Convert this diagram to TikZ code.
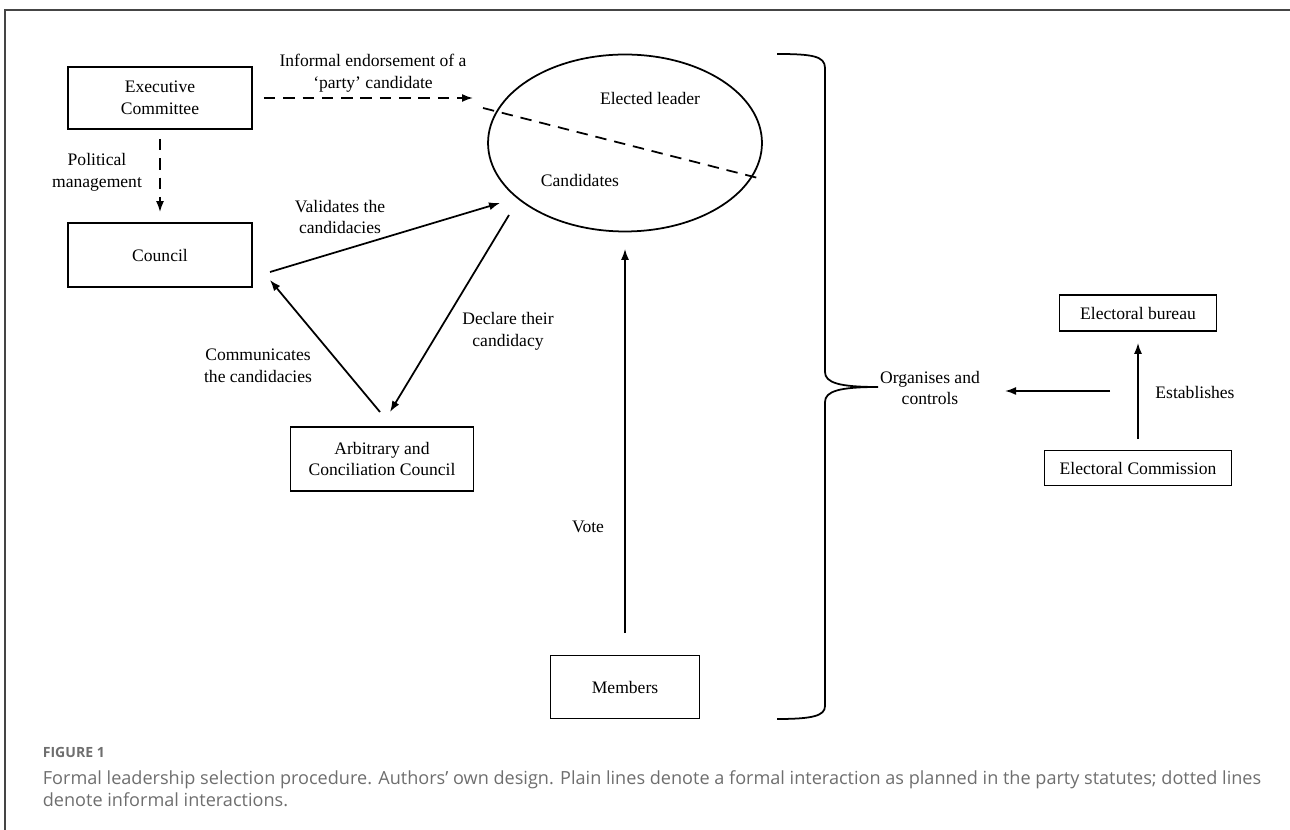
\documentclass[tikz,border=0pt]{standalone}
\usepackage{fontspec}
\setmainfont{Liberation Serif}
\newfontfamily\captionfont{Open Sans}
\usetikzlibrary{shapes.geometric,arrows.meta}
\definecolor{framegray}{HTML}{454545}
\definecolor{captiongray}{HTML}{6E6E6E}

\begin{document}
\begin{tikzpicture}[x=0.02cm,y=-0.02cm,
	>={Latex[length=2.2mm,width=1.6mm]},
	font=\fontsize{10}{12.5}\selectfont,
	line width=1pt,
	box/.style={draw,align=center,inner sep=0pt},
	note/.style={align=center,inner sep=1pt},
	informal/.style={dash pattern=on 6.5pt off 4.5pt}]
	\useasboundingbox (0,0) rectangle (1290,830);
	\draw[framegray,line width=1pt] (5,830) -- (5,10) -- (1290,10);

	\node[box,minimum width=3.68cm,minimum height=1.24cm] (Executive) at (160,98) {Executive\\Committee};
	\node[box,minimum width=3.68cm,minimum height=1.28cm] (Council) at (160,255) {Council};
	\node[box,minimum width=3.66cm,minimum height=1.28cm] (Arbitrary) at (382,459) {Arbitrary and\\Conciliation Council};
	\node[box,minimum width=2.98cm,minimum height=1.26cm] (Members) at (625,687) {Members};
	\node[box,minimum width=3.14cm,minimum height=0.72cm] (Bureau) at (1138,313) {Electoral bureau};
	\node[box,minimum width=3.74cm,minimum height=0.70cm] (Commission) at (1138,468) {Electoral Commission};

	\node[draw,ellipse,minimum width=5.48cm,minimum height=3.54cm,inner sep=0pt] (Leadership) at (625,143) {};
	\node (Elected) at (650,98) {Elected leader};
	\node (Candidates) at (580,180) {Candidates};
	\coordinate (SplitW) at (483,108);
	\coordinate (SplitE) at (758,178);
	\draw[informal] (SplitW) -- (SplitE);

	\node[note] (Endorsement) at (373,73) {Informal endorsement of a\\‘party’ candidate};
	\node[note] (Management) at (97,172) {Political\\management};
	\node[note] (Validates) at (340,217) {Validates the\\candidacies};
	\node[note] (Declare) at (508,331) {Declare their\\candidacy};
	\node[note] (Communicates) at (258,366) {Communicates\\the candidacies};
	\node[note] (Vote) at (588,527) {Vote};
	\node[note] (Organises) at (930,388) {Organises and\\controls};
	\node[note] (Establishes) at (1195,392) {Establishes};

	\coordinate (EndorseTip) at (473,98);
	\coordinate (ValidatesFrom) at (270,272);
	\coordinate (ValidatesTip) at (500,203);
	\coordinate (DeclareFrom) at (509,215);
	\coordinate (DeclareTip) at (390,412);
	\coordinate (CommunicatesFrom) at (380,412);
	\coordinate (CommunicatesTip) at (270,280);
	\coordinate (OrganisesFrom) at (1110,391);
	\coordinate (OrganisesTip) at (1005,391);

	\draw[->,informal,shorten <=0.22cm] (Executive.east) -- (EndorseTip);
	\draw[->,informal,shorten <=0.18cm,shorten >=0.2cm] (Executive) -- (Council);
	\draw[->] (ValidatesFrom) -- (ValidatesTip);
	\draw[->] (DeclareFrom) -- (DeclareTip);
	\draw[->] (CommunicatesFrom) -- (CommunicatesTip);
	\draw[->,shorten <=0.43cm,shorten >=0.33cm] (Members) -- (Leadership);
	\draw[->,shorten <=0.21cm,shorten >=0.22cm] (Commission) -- (Bureau);
	\draw[->] (OrganisesFrom) -- (OrganisesTip);

	\draw (777,54) .. controls (812,54) and (825,56) .. (825,68) -- (825,372)
		.. controls (825,383) and (840,387) .. (878,387)
		.. controls (840,387) and (825,391) .. (825,402) -- (825,706)
		.. controls (825,716) and (812,719) .. (777,719);

	\node[anchor=west,inner sep=0pt,captiongray,font=\captionfont\bfseries\fontsize{8}{9}\selectfont] (FigureNo) at (42,752) {FIGURE 1};
	\node[anchor=west,inner sep=0pt,align=left,captiongray,font=\captionfont\fontsize{10.3}{12.5}\selectfont] (Caption) at (42,789) {Formal leadership selection procedure. Authors’ own design. Plain lines denote a formal interaction as planned in the party statutes; dotted lines\\denote informal interactions.};
\end{tikzpicture}
\end{document}
